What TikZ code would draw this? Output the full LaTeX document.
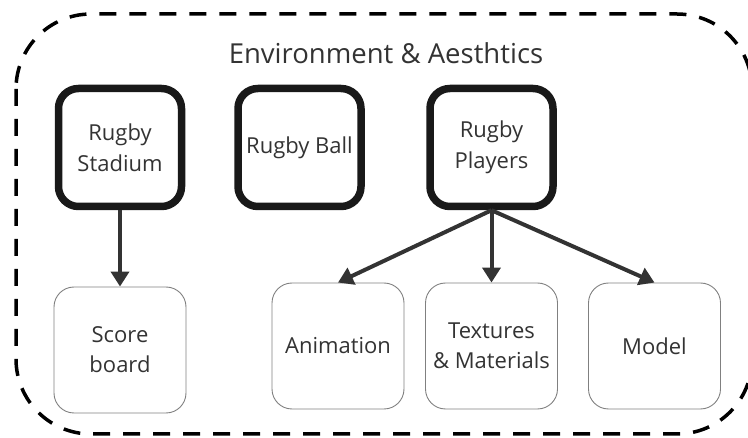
\documentclass[tikz,border=0pt]{standalone}
\usepackage{fontspec}
\setmainfont{Open Sans}
\usetikzlibrary{arrows.meta}
\definecolor{darkline}{HTML}{333333}
\begin{document}
\begin{tikzpicture}[x=1pt, y=-1pt,
        mainbox/.style={draw=black!90, line width=7.5pt, rounded corners=20pt, minimum width=123pt, minimum height=118pt, align=center, inner sep=1pt, font=\fontsize{22}{31}\selectfont, text=darkline},
        subbox/.style={draw=gray, line width=0.9pt, rounded corners=20pt, minimum width=132pt, minimum height=126pt, align=center, font=\fontsize{22}{30}\selectfont, text=darkline},
        link/.style={-{Triangle[length=15pt, width=18pt]}, line width=4pt, draw=darkline}]
        \useasboundingbox (0,0) rectangle (748,438);

        % outer group
        \draw[line width=3.5pt, dash pattern=on 17pt off 13pt, rounded corners=75pt] (16,14) rectangle (752,434);
        \node[font=\fontsize{27.5}{32}\selectfont, text=darkline] (title) at (386,53) {Environment \& Aesthtics};

        % top row
        \node[mainbox] (stadium) at (120,147.5) {Rugby\\Stadium};
        \node[mainbox] (ball) at (299.5,147.5) {Rugby Ball};
        \node[mainbox] (players) at (491.5,147.5) {Rugby\\Players};

        % bottom row
        \node[subbox] (score) at (120,350) {Score\\board};
        \node[subbox] (anim) at (338,346) {Animation};
        \node[subbox] (tex) at (491.5,346) {Textures\\\& Materials};
        \node[subbox] (model) at (654.5,346) {Model};

        % links
        \draw[link] (stadium.south) -- (score.north);
        \draw[link] (players.south) -- (anim.north);
        \draw[link] (players.south) -- (tex.north);
        \draw[link] (players.south) -- (model.north);
    \end{tikzpicture}
\end{document}
